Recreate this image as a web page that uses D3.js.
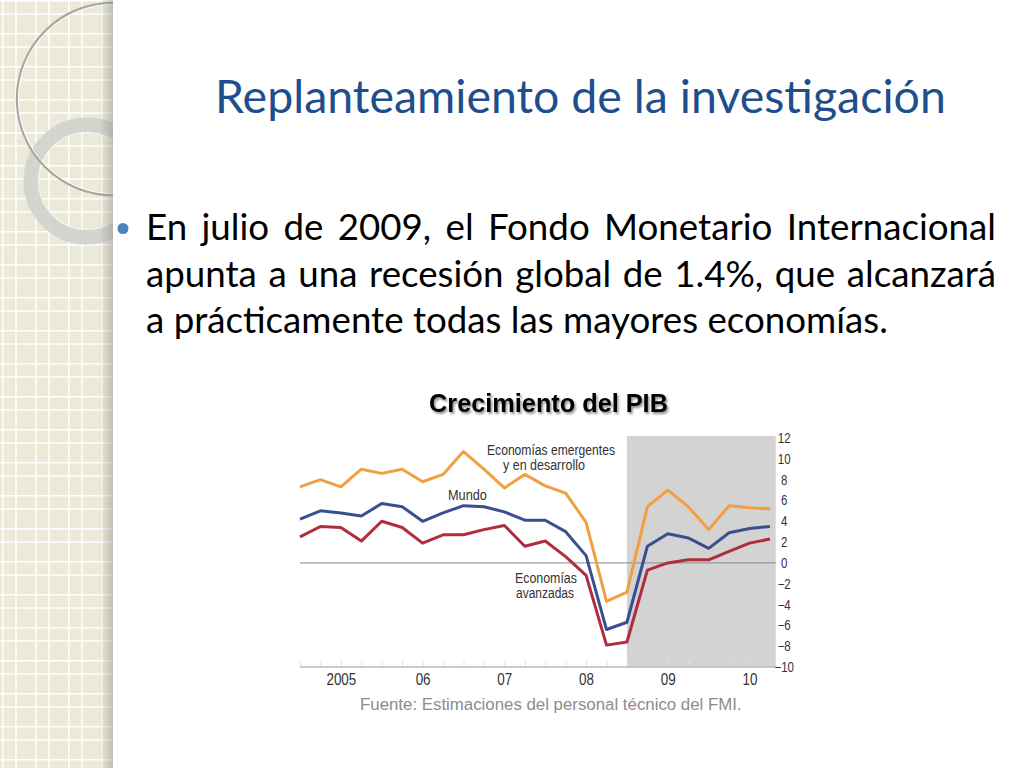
<!DOCTYPE html>
<html>
<head>
<meta charset="utf-8">
<script src="https://cdn.jsdelivr.net/npm/d3@7"></script>
<style>
  html, body { margin: 0; padding: 0; background: #fff; overflow: hidden; }
  svg { display: block; }
</style>
</head>
<body>
<svg id="slide" width="1024" height="768"></svg>
<script>
// --- slide texts ---
const titleText = 'Replanteamiento de la investigación';
const bulletLines = [
    'En julio de 2009, el Fondo Monetario Internacional',
    'apunta a una recesión global de 1.4%, que alcanzará',
    'a prácticamente todas las mayores economías.'
];
const chartTitle = 'Crecimiento del PIB';
const sourceText = 'Fuente: Estimaciones del personal técnico del FMI.';

// --- chart data (quarterly, % growth) ---
const periods = [
    2005.00, 2005.25, 2005.50, 2005.75,
    2006.00, 2006.25, 2006.50, 2006.75,
    2007.00, 2007.25, 2007.50, 2007.75,
    2008.00, 2008.25, 2008.50, 2008.75,
    2009.00, 2009.25, 2009.50, 2009.75,
    2010.00, 2010.25, 2010.50, 2010.75
];
const emergentes = [7.3, 8.0, 7.3, 9.0, 8.6, 9.0, 7.8, 8.5, 10.7, 9.0, 7.2, 8.5,
                    7.4, 6.7, 3.9, -3.7, -2.8, 5.4, 7.0, 5.4, 3.2, 5.5, 5.3, 5.2];
const mundo      = [4.2, 5.0, 4.8, 4.5, 5.7, 5.4, 4.0, 4.8, 5.5, 5.4, 4.9, 4.1,
                    4.1, 3.0, 0.7, -6.4, -5.7, 1.6, 2.8, 2.4, 1.4, 2.9, 3.3, 3.5];
const avanzadas  = [2.5, 3.5, 3.4, 2.1, 4.0, 3.4, 1.9, 2.7, 2.7, 3.2, 3.6, 1.6,
                    2.1, 0.6, -1.2, -7.9, -7.6, -0.7, 0.0, 0.3, 0.3, 1.1, 1.9, 2.3];

const yearTicks  = [2005.5, 2006.5, 2007.5, 2008.5, 2009.5, 2010.5];
const yearLabels = ['2005', '06', '07', '08', '09', '10'];
const yTicks     = [12, 10, 8, 6, 4, 2, 0, -2, -4, -6, -8, -10];
const projection = [2009, 2010.82]; // shaded span

const svg = d3.select('#slide');
const defs = svg.append('defs');

// helpers
function fitSize(sel, target) {
    const base = parseFloat(sel.attr('font-size'));
    const w = sel.node().getComputedTextLength();
    sel.attr('font-size', base * target / w);
}
function squeeze(sel, target) {
    const w = sel.node().getComputedTextLength();
    const k = target / w;
    const x0 = +sel.attr('x'), y0 = +sel.attr('y');
    sel.attr('x', 0).attr('y', 0)
        .attr('transform', `translate(${x0},${y0}) scale(${k},1)`);
}

// ---------- left decorative strip ----------
const pat = defs.append('pattern')
    .attr('id', 'grid').attr('patternUnits', 'userSpaceOnUse')
    .attr('width', 33).attr('height', 33).attr('x', 2).attr('y', 0);
pat.append('rect').attr('width', 33).attr('height', 33).attr('fill', '#ebead8');
pat.append('path').attr('d', 'M0 6.5H33M0 23H33M6.5 0V33M23 0V33')
    .attr('stroke', '#f1f0e3').attr('stroke-width', 1).attr('stroke-dasharray', '1,2');
pat.append('path').attr('d', 'M0 0.75H33M0 14H33M0.75 0V33M14 0V33')
    .attr('stroke', '#ffffff').attr('stroke-width', 1.5);

const shadowGrad = defs.append('linearGradient').attr('id', 'edge');
shadowGrad.append('stop').attr('offset', '0%').attr('stop-color', '#8a8a80').attr('stop-opacity', 0);
shadowGrad.append('stop').attr('offset', '100%').attr('stop-color', '#8a8a80').attr('stop-opacity', 0.45);

defs.append('clipPath').attr('id', 'stripClip')
    .append('rect').attr('x', 0).attr('y', 0).attr('width', 113).attr('height', 768);

const strip = svg.append('g');
strip.append('rect').attr('width', 113).attr('height', 768).attr('fill', 'url(#grid)');

const rings = strip.append('g').attr('clip-path', 'url(#stripClip)');
rings.append('circle').attr('cx', 87).attr('cy', 181).attr('r', 56)
    .attr('fill', 'none').attr('stroke', '#d3d3cf').attr('stroke-opacity', 0.95).attr('stroke-width', 15);
rings.append('circle').attr('cx', 87).attr('cy', 181).attr('r', 48.5)
    .attr('fill', 'none').attr('stroke', '#f4f4f0').attr('stroke-width', 1.2);
rings.append('circle').attr('cx', 113).attr('cy', 99).attr('r', 96)
    .attr('fill', 'none').attr('stroke', '#a9a79c').attr('stroke-width', 2.4);
rings.append('circle').attr('cx', 113).attr('cy', 99).attr('r', 94.6)
    .attr('fill', 'none').attr('stroke', '#ffffff').attr('stroke-width', 1);

strip.append('rect').attr('x', 99).attr('width', 14).attr('height', 768).attr('fill', 'url(#edge)');

// ---------- title and bullet ----------
const title = svg.append('text')
    .attr('x', 215).attr('y', 113)
    .attr('font-family', 'Lato, "Open Sans", sans-serif')
    .attr('font-size', 44).attr('fill', '#1f4e8d')
    .text(titleText);
fitSize(title, 731);

svg.append('circle').attr('cx', 123).attr('cy', 228.5).attr('r', 5.5).attr('fill', '#4f81bd');

const bodyFont = 'Lato, "Open Sans", sans-serif';
const probe = svg.append('text').attr('font-family', bodyFont).attr('font-size', 36).text(bulletLines[2]);
fitSize(probe, 742);
const bodySize = +probe.attr('font-size');
probe.remove();

const baselines = [240, 287, 333];
bulletLines.forEach((line, li) => {
    const words = line.split(' ');
    const g = svg.append('g');
    if (li === bulletLines.length - 1) {
        g.append('text').attr('x', 146).attr('y', baselines[li])
            .attr('font-family', bodyFont).attr('font-size', bodySize).attr('fill', '#000')
            .text(line);
        return;
    }
    const nodes = words.map(w => g.append('text')
        .attr('y', baselines[li])
        .attr('font-family', bodyFont).attr('font-size', bodySize).attr('fill', '#000')
        .text(w));
    const widths = nodes.map(n => n.node().getComputedTextLength());
    const gap = (996 - 146 - d3.sum(widths)) / (words.length - 1);
    let cx = 146;
    nodes.forEach((n, i) => { n.attr('x', cx); cx += widths[i] + gap; });
});

// ---------- chart ----------
const x = d3.scaleLinear().domain([2005, 2010.75]).range([300, 770]);
const y = d3.scaleLinear().domain([-10, 12]).range([667, 438]);
const plotLeft = x(2005), plotRight = x(projection[1]);

const chart = svg.append('g');

// chart title with shadow
defs.append('filter').attr('id', 'tshadow').attr('x', '-10%').attr('y', '-30%').attr('width', '120%').attr('height', '160%')
    .append('feDropShadow').attr('dx', 1.5).attr('dy', 2).attr('stdDeviation', 1.2)
    .attr('flood-color', '#000').attr('flood-opacity', 0.45);
const ct = chart.append('text')
    .attr('x', 548.5).attr('y', 412).attr('text-anchor', 'middle')
    .attr('font-family', '"Liberation Sans", Arial, sans-serif').attr('font-weight', 'bold')
    .attr('font-size', 19).attr('fill', '#000').attr('filter', 'url(#tshadow)')
    .text(chartTitle);
fitSize(ct, 239);

// projection shading
chart.append('rect')
    .attr('x', x(projection[0])).attr('y', y(12) - 2)
    .attr('width', x(projection[1]) - x(projection[0]))
    .attr('height', y(-10) - y(12) + 2)
    .attr('fill', '#d3d3d3');

// quarter ticks along the bottom
chart.append('g')
    .attr('transform', `translate(0,${y(-10)})`)
    .call(d3.axisBottom(x).tickValues(periods).tickSize(-6).tickFormat(''))
    .call(g => g.select('.domain').remove())
    .call(g => g.selectAll('.tick line').attr('stroke', '#e2e2e2'));

// zero line and baseline
chart.append('line').attr('x1', plotLeft).attr('x2', plotRight)
    .attr('y1', y(0)).attr('y2', y(0)).attr('stroke', '#8a8a8a').attr('stroke-width', 1);
chart.append('line').attr('x1', plotLeft).attr('x2', plotRight)
    .attr('y1', y(-10)).attr('y2', y(-10)).attr('stroke', '#b8b8b8').attr('stroke-width', 1.5);

// x labels
const xAxis = chart.append('g')
    .attr('transform', `translate(0,${y(-10)})`)
    .call(d3.axisBottom(x).tickValues(yearTicks).tickSize(0).tickPadding(0)
        .tickFormat((d, i) => yearLabels[i]));
xAxis.select('.domain').remove();
xAxis.selectAll('text')
    .attr('font-family', '"Liberation Sans", Arial, sans-serif').attr('font-size', 16)
    .attr('fill', '#333').attr('dy', 0).attr('y', 0)
    .attr('transform', 'translate(0,18) scale(0.84,1)');

// y labels (right side)
const yAxis = chart.append('g')
    .attr('transform', `translate(${plotRight},0)`)
    .call(d3.axisRight(y).tickValues(yTicks).tickSize(0).tickPadding(8.5));
yAxis.select('.domain').remove();
yAxis.selectAll('text')
    .attr('text-anchor', 'middle')
    .attr('font-family', '"Liberation Sans", Arial, sans-serif').attr('font-size', 14)
    .attr('fill', '#333').attr('x', 8.5 / 0.82)
    .attr('transform', 'scale(0.82,1)');

// series lines
const line = d3.line()
    .x((d, i) => x(periods[i]))
    .y(d => y(d));
const series = [
    { values: emergentes, color: '#f0a040' },
    { values: mundo, color: '#3a4f90' },
    { values: avanzadas, color: '#b02c3f' }
];
series.forEach(s => {
    chart.append('path')
        .attr('d', line(s.values))
        .attr('fill', 'none').attr('stroke', s.color)
        .attr('stroke-width', 3).attr('stroke-linejoin', 'round');
});

// series labels
const seriesLabels = [
    { text: 'Economías emergentes', x: 487, y: 455, w: 128 },
    { text: 'y en desarrollo', x: 503, y: 469.5, w: 82 },
    { text: 'Mundo', x: 448, y: 500, w: 39 },
    { text: 'Economías', x: 515, y: 582.5, w: 62 },
    { text: 'avanzadas', x: 516, y: 597.5, w: 58 }
];
seriesLabels.forEach(l => {
    const t = chart.append('text')
        .attr('x', l.x).attr('y', l.y)
        .attr('font-family', '"Liberation Sans", Arial, sans-serif').attr('font-size', 14.5)
        .attr('fill', '#333').text(l.text);
    squeeze(t, l.w);
});

// source
const src = chart.append('text')
    .attr('x', 360).attr('y', 710)
    .attr('font-family', '"Liberation Sans", Arial, sans-serif').attr('font-size', 14)
    .attr('fill', '#8c8c8c').text(sourceText);
fitSize(src, 382);
</script>
</body>
</html>
